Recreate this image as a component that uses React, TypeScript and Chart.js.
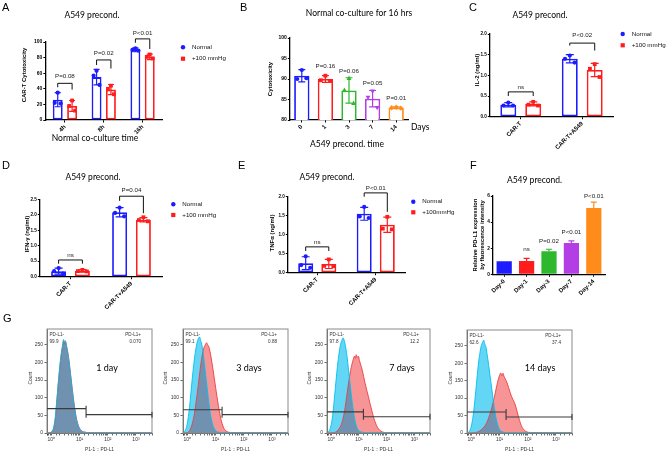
import React, { useEffect, useRef } from 'react';
import { Chart, registerables } from 'chart.js';

Chart.register(...registerables);

/* ======================= DATA ======================= */
// Panel A – CAR-T cytotoxicity vs co-culture time
const A_CATEGORIES = ['4h', '8h', '16h'];
const A_SERIES = ['Normal', '+100 mmHg'];
const A_NORMAL_MEAN = [26, 55, 90];
const A_NORMAL_SD = [9, 10, 2.5];
const A_NORMAL_POINTS = [[35, 22, 21], [63, 57, 45], [92, 90, 89]];
const A_HIGH_MEAN = [18, 39, 81];
const A_HIGH_SD = [7, 6.5, 3.5];
const A_HIGH_POINTS = [[25, 18, 12], [44, 40, 33], [84, 81, 79]];
const A_BRACKETS = [
  { label: 'P=0.08', labelY: 56, top: 47, leftEnd: 42, rightEnd: 39 },
  { label: 'P=0.02', labelY: 86, top: 77, leftEnd: 70.5, rightEnd: 66 },
  { label: 'P<0.01', labelY: 111, top: 104, leftEnd: 99, rightEnd: 91 },
];

// Panel B – cytotoxicity after preconditioning days
const B_CATEGORIES = ['0', '1', '3', '7', '14'];
const B_MEAN = [90.8, 90.0, 87.2, 85.2, 83.0];
const B_SD = [1.5, 0.8, 3.1, 2.0, 0.2];
const B_POINTS = [[92.2, 90.0, 90.2], [90.8, 89.7, 89.5], [90.2, 87.3, 84.1], [87.0, 85.5, 83.0], [83.1, 83.0, 82.9]];
const B_P_LABELS = ['', 'P=0.16', 'P=0.06', 'P=0.05', 'P=0.01'];
const B_P_LABEL_Y = [0, 93.2, 92.0, 89.0, 85.4];

// Panel C – IL-2
const C_CATEGORIES = ['CAR-T', 'CAR-T+A549'];
const C_NORMAL_MEAN = [0.29, 1.40];
const C_NORMAL_SD = [0.05, 0.1];
const C_NORMAL_POINTS = [[0.34, 0.27, 0.27], [1.48, 1.40, 1.31]];
const C_HIGH_MEAN = [0.31, 1.13];
const C_HIGH_SD = [0.05, 0.16];
const C_HIGH_POINTS = [[0.36, 0.29, 0.27], [1.27, 1.16, 0.96]];
const C_BRACKETS = [
  { label: 'ns', labelY: 0.72, top: 0.6, leftEnd: 0.5, rightEnd: 0.5 },
  { label: 'P<0.02', labelY: 1.96, top: 1.78, leftEnd: 1.72, rightEnd: 1.6 },
];

// Panel D – IFN-γ
const D_CATEGORIES = ['CAR-T', 'CAR-T+A549'];
const D_NORMAL_MEAN = [0.18, 2.08];
const D_NORMAL_SD = [0.1, 0.15];
const D_NORMAL_POINTS = [[0.28, 0.18, 0.1], [2.23, 2.06, 1.95]];
const D_HIGH_MEAN = [0.19, 1.84];
const D_HIGH_SD = [0.04, 0.07];
const D_HIGH_POINTS = [[0.22, 0.18, 0.17], [1.92, 1.83, 1.79]];
const D_BRACKETS = [
  { label: 'ns', labelY: 0.7, top: 0.54, leftEnd: 0.42, rightEnd: 0.42 },
  { label: 'P=0.04', labelY: 2.8, top: 2.6, leftEnd: 2.45, rightEnd: 2.05 },
];

// Panel E – TNFα
const E_CATEGORIES = ['CAR-T', 'CAR-T+A549'];
const E_NORMAL_MEAN = [0.25, 1.55];
const E_NORMAL_SD = [0.17, 0.17];
const E_NORMAL_POINTS = [[0.43, 0.2, 0.13], [1.73, 1.48, 1.44]];
const E_HIGH_MEAN = [0.23, 1.26];
const E_HIGH_SD = [0.12, 0.2];
const E_HIGH_POINTS = [[0.35, 0.18, 0.17], [1.47, 1.16, 1.14]];
const E_BRACKETS = [
  { label: 'ns', labelY: 0.8, top: 0.68, leftEnd: 0.57, rightEnd: 0.57 },
  { label: 'P<0.01', labelY: 2.22, top: 2.1, leftEnd: 2.0, rightEnd: 1.6 },
];

// Panel F – relative PD-L1 expression
const F_CATEGORIES = ['Day-0', 'Day-1', 'Day-3', 'Day-7', 'Day-14'];
const F_MEAN = [1.0, 1.02, 1.76, 2.4, 5.08];
const F_SD = [0, 0.2, 0.16, 0.16, 0.45];
const F_P_LABELS = ['', 'ns', 'P=0.02', 'P<0.01', 'P<0.01'];
const F_P_LABEL_Y = [0, 1.95, 2.5, 3.2, 6.0];

// Panel G – flow cytometry histograms ([log10 PD-L1, count])
const G_DAYS = ['1 day', '3 days', '7 days', '14 days'];
const G_NEG_PCT = ['99.9', '99.1', '97.8', '62.6'];
const G_POS_PCT = ['0.070', '0.88', '12.2', '37.4'];
const G_GATE_SPLIT = [17, 17, 14.5, 17];
const G_GATE_NEG_Y = [69, 66, 60, 60];
const G_GATE_POS_Y = [52, 52, 46, 46];
const G_X_MIN = 0.71;
const G_X_MAX = 3700;
const G_Y_MAX = 295;
const G_CONTROL = [
  [[-0.15, 0], [-0.05, 1], [0.02, 4], [0.08, 15], [0.14, 45], [0.2, 100], [0.25, 148], [0.3, 190], [0.35, 225], [0.4, 250], [0.43, 265], [0.46, 255], [0.49, 262], [0.53, 248], [0.57, 232], [0.62, 205], [0.67, 170], [0.72, 135], [0.77, 100], [0.82, 70], [0.87, 45], [0.92, 27], [0.98, 14], [1.05, 6], [1.15, 2], [1.4, 1], [3.57, 0.5]],
  [[-0.15, 0], [-0.1, 4], [-0.05, 12], [0, 28], [0.05, 55], [0.1, 92], [0.15, 135], [0.2, 175], [0.25, 210], [0.3, 238], [0.35, 258], [0.4, 270], [0.44, 272], [0.47, 262], [0.5, 256], [0.55, 232], [0.6, 200], [0.65, 163], [0.7, 128], [0.75, 93], [0.8, 62], [0.86, 36], [0.92, 18], [0.99, 8], [1.08, 3], [1.3, 1], [3.57, 0.5]],
  [[-0.15, 0], [-0.1, 3], [-0.05, 10], [0, 25], [0.05, 50], [0.1, 88], [0.15, 130], [0.2, 172], [0.25, 208], [0.3, 236], [0.35, 256], [0.4, 266], [0.43, 270], [0.46, 264], [0.5, 252], [0.55, 228], [0.6, 196], [0.65, 160], [0.7, 125], [0.75, 90], [0.8, 60], [0.86, 34], [0.92, 17], [0.99, 7], [1.08, 3], [1.3, 1], [3.57, 0.5]],
  [[-0.15, 0], [-0.1, 2], [-0.05, 8], [0, 20], [0.05, 42], [0.1, 75], [0.15, 115], [0.2, 158], [0.25, 198], [0.3, 228], [0.35, 250], [0.4, 260], [0.44, 266], [0.47, 256], [0.51, 248], [0.56, 225], [0.61, 196], [0.66, 165], [0.71, 135], [0.76, 104], [0.81, 74], [0.87, 45], [0.93, 24], [1.0, 10], [1.08, 4], [1.3, 1], [3.57, 0.5]],
];
const G_SAMPLE = [
  [[-0.15, 0], [-0.05, 1], [0.02, 3], [0.08, 13], [0.14, 42], [0.2, 95], [0.25, 142], [0.3, 186], [0.35, 222], [0.4, 248], [0.44, 262], [0.47, 252], [0.5, 260], [0.54, 246], [0.58, 230], [0.63, 203], [0.68, 168], [0.73, 133], [0.78, 99], [0.83, 70], [0.88, 45], [0.93, 28], [0.99, 15], [1.06, 7], [1.15, 3], [1.4, 1], [3.57, 0.5]],
  [[-0.15, 0], [0, 1], [0.05, 4], [0.1, 10], [0.15, 20], [0.2, 35], [0.25, 55], [0.3, 82], [0.35, 112], [0.4, 145], [0.45, 178], [0.5, 208], [0.55, 230], [0.6, 245], [0.65, 252], [0.68, 256], [0.72, 250], [0.76, 245], [0.8, 232], [0.85, 210], [0.9, 185], [0.95, 158], [1.0, 130], [1.05, 103], [1.1, 78], [1.15, 55], [1.2, 36], [1.26, 20], [1.32, 10], [1.4, 4], [1.55, 1.5], [3.57, 0.5]],
  [[-0.15, 0], [0.1, 1], [0.2, 5], [0.3, 14], [0.38, 28], [0.45, 50], [0.5, 72], [0.55, 100], [0.6, 128], [0.65, 155], [0.7, 178], [0.75, 196], [0.8, 210], [0.84, 218], [0.87, 212], [0.9, 222], [0.94, 214], [0.98, 218], [1.02, 205], [1.07, 192], [1.12, 178], [1.17, 160], [1.22, 142], [1.28, 122], [1.34, 104], [1.4, 84], [1.47, 62], [1.54, 42], [1.6, 28], [1.67, 16], [1.75, 8], [1.85, 3], [2.0, 1], [3.57, 0.5]],
  [[-0.15, 0], [0.15, 1], [0.25, 4], [0.35, 9], [0.45, 17], [0.55, 30], [0.62, 45], [0.7, 65], [0.77, 88], [0.84, 112], [0.9, 135], [0.95, 152], [1.0, 165], [1.04, 172], [1.08, 163], [1.12, 171], [1.16, 162], [1.2, 155], [1.26, 145], [1.32, 130], [1.38, 115], [1.44, 102], [1.5, 92], [1.56, 80], [1.62, 62], [1.68, 44], [1.74, 28], [1.8, 16], [1.88, 8], [1.97, 3], [2.1, 1.5], [3.57, 0.5]],
];

/* ======================= STYLE ======================= */
const BLUE = '#1c1cff';
const RED = '#ff1c1c';
const GREEN = '#2eb82e';
const PURPLE = '#b33ee6';
const ORANGE = '#ff8c1a';
const SANS = '"Liberation Sans", Arial, sans-serif';
const LATO = 'Lato, "Open Sans", sans-serif';
const JITTER = [0, -0.3, 0.3];
const HIST_RED_FILL = 'rgb(246,148,150)';
const HIST_RED_LINE = 'rgb(236,62,62)';
const HIST_CYAN_FILL = 'rgb(100,214,245)';
const HIST_CYAN_LINE = 'rgb(0,192,238)';
const HIST_OVERLAP_FILL = 'rgb(112,146,176)';

/* ======================= HELPERS ======================= */
function drawShape(ctx: any, shape: string, x: number, y: number, r: number, color: string) {
  ctx.save();
  ctx.fillStyle = color;
  ctx.beginPath();
  if (shape === 'square') ctx.rect(x - r, y - r, 2 * r, 2 * r);
  else if (shape === 'triangle') { ctx.moveTo(x, y - r * 1.25); ctx.lineTo(x + r * 1.15, y + r * 0.85); ctx.lineTo(x - r * 1.15, y + r * 0.85); ctx.closePath(); }
  else if (shape === 'triangleDown') { ctx.moveTo(x, y + r * 1.25); ctx.lineTo(x + r * 1.15, y - r * 0.85); ctx.lineTo(x - r * 1.15, y - r * 0.85); ctx.closePath(); }
  else if (shape === 'diamond') { ctx.moveTo(x, y - r * 1.3); ctx.lineTo(x + r * 1.1, y); ctx.lineTo(x, y + r * 1.3); ctx.lineTo(x - r * 1.1, y); ctx.closePath(); }
  else ctx.arc(x, y, r, 0, Math.PI * 2);
  ctx.fill();
  ctx.restore();
}

function drawTexts(ctx: any, items: any[], ox: number, oy: number) {
  for (const it of items) {
    ctx.save();
    ctx.translate(it.x - ox, it.y - oy);
    if (it.rot) ctx.rotate((it.rot * Math.PI) / 180);
    ctx.font = `${it.weight || 'normal'} ${it.size}px ${it.family || SANS}`;
    ctx.fillStyle = it.color || '#000';
    ctx.textAlign = it.align || 'center';
    ctx.textBaseline = it.baseline || 'middle';
    ctx.fillText(it.t, 0, 0);
    ctx.restore();
  }
}

function barPlugin(spec: any) {
  const { box } = spec;
  return {
    id: 'barDecor',
    afterDatasetsDraw(chart: any) {
      const ctx = chart.ctx;
      const ys = chart.scales.y;
      spec.series.forEach((s: any, k: number) => {
        const meta = chart.getDatasetMeta(k);
        meta.data.forEach((bar: any, j: number) => {
          const color = s.colors[j] || s.colors[0];
          const shape = (s.shapes && (s.shapes[j] || s.shapes[0])) || 'circle';
          const m = s.means[j];
          const sd = s.sds[j];
          if (sd > 0) {
            const top = ys.getPixelForValue(m + sd);
            const bot = ys.getPixelForValue(s.upperOnly ? m : m - sd);
            const c = spec.capW / 2;
            ctx.save();
            ctx.strokeStyle = color;
            ctx.lineWidth = 1.2;
            ctx.beginPath();
            ctx.moveTo(bar.x, top); ctx.lineTo(bar.x, bot);
            ctx.moveTo(bar.x - c, top); ctx.lineTo(bar.x + c, top);
            if (!s.upperOnly) { ctx.moveTo(bar.x - c, bot); ctx.lineTo(bar.x + c, bot); }
            ctx.stroke();
            ctx.restore();
          }
          if (s.points) {
            s.points[j].forEach((v: number, n: number) => {
              const r = shape === 'square' ? 1.9 : 2.1;
              drawShape(ctx, shape, bar.x + JITTER[n] * bar.width, ys.getPixelForValue(v), r, color);
            });
          }
        });
      });
    },
    afterDraw(chart: any) {
      const ctx = chart.ctx;
      const ys = chart.scales.y;
      if (spec.brackets) {
        const m0 = chart.getDatasetMeta(0);
        const m1 = chart.getDatasetMeta(1);
        spec.brackets.forEach((b: any, j: number) => {
          const x1 = m0.data[j].x;
          const x2 = m1.data[j].x;
          const yt = ys.getPixelForValue(b.top);
          ctx.save();
          ctx.strokeStyle = '#111';
          ctx.lineWidth = 1;
          ctx.beginPath();
          ctx.moveTo(x1, ys.getPixelForValue(b.leftEnd));
          ctx.lineTo(x1, yt);
          ctx.lineTo(x2, yt);
          ctx.lineTo(x2, ys.getPixelForValue(b.rightEnd));
          ctx.stroke();
          ctx.restore();
          drawTexts(ctx, [{ t: b.label, x: (x1 + x2) / 2, y: ys.getPixelForValue(b.labelY), size: 6.2, color: '#222' }], 0, 0);
        });
      }
      if (spec.barLabels) {
        const meta = chart.getDatasetMeta(0);
        spec.barLabels.labels.forEach((lab: string, j: number) => {
          if (!lab) return;
          drawTexts(ctx, [{ t: lab, x: meta.data[j].x, y: ys.getPixelForValue(spec.barLabels.ys[j]), size: 6.2, color: '#222' }], 0, 0);
        });
      }
      if (spec.legend) {
        const L = spec.legend;
        L.labels.forEach((lab: string, n: number) => {
          drawShape(ctx, L.shapes[n], L.x - box.left, L.ys[n] - box.top, L.shapes[n] === 'square' ? 2.1 : 2.2, L.colors[n]);
          drawTexts(ctx, [{ t: lab, x: L.x + 9, y: L.ys[n], size: 6.2, align: 'left', color: '#111' }], box.left, box.top);
        });
      }
      drawTexts(ctx, spec.texts, box.left, box.top);
    },
  };
}

function barConfig(spec: any) {
  const { box, area } = spec;
  const datasets = spec.series.map((s: any) => ({
    label: s.label,
    data: s.means,
    backgroundColor: s.filled ? s.colors : '#ffffff',
    borderColor: s.colors,
    borderWidth: s.filled ? 0 : 1.8,
    borderSkipped: false,
    barPercentage: spec.barPct,
    categoryPercentage: spec.catPct,
  }));
  return {
    type: 'bar',
    data: { labels: spec.categories, datasets },
    options: {
      animation: false,
      responsive: false,
      maintainAspectRatio: false,
      layout: { padding: { left: 0, top: area.top - box.top, right: box.left + box.width - area.right, bottom: 0 } },
      plugins: { legend: { display: false }, tooltip: { enabled: false }, title: { display: false } },
      scales: {
        x: {
          type: 'category',
          offset: true,
          grid: { display: true, drawOnChartArea: false, drawTicks: true, tickLength: 2.5, offset: false, color: '#000', lineWidth: 1 },
          border: { display: true, color: '#000', width: 1.3 },
          ticks: { autoSkip: false, minRotation: spec.rot, maxRotation: spec.rot, padding: 1, color: '#000', font: { family: SANS, size: 6, weight: 'bold' } },
          afterFit: (s: any) => { s.height = box.top + box.height - area.bottom; },
        },
        y: {
          min: spec.yMin,
          max: spec.yMax,
          grid: { display: true, drawOnChartArea: false, drawTicks: true, tickLength: 2.2, color: '#000', lineWidth: 1 },
          border: { display: true, color: '#000', width: 1.3 },
          ticks: { stepSize: spec.yStep, padding: 1, color: '#000', font: { family: SANS, size: spec.yTickSize, weight: 'bold' }, callback: (v: any) => Number(v).toFixed(spec.yDec) },
          afterFit: (s: any) => { s.width = area.left - box.left; },
        },
      },
    },
    plugins: [barPlugin(spec)],
  };
}

/* ======================= PANEL SPECS ======================= */
const PANEL_A = {
  box: { left: 0, top: 0, width: 240, height: 150 },
  area: { left: 45.5, top: 42, right: 162, bottom: 120 },
  categories: A_CATEGORIES,
  series: [
    { label: A_SERIES[0], means: A_NORMAL_MEAN, sds: A_NORMAL_SD, points: A_NORMAL_POINTS, colors: [BLUE], shapes: ['circle'] },
    { label: A_SERIES[1], means: A_HIGH_MEAN, sds: A_HIGH_SD, points: A_HIGH_POINTS, colors: [RED], shapes: ['square'] },
  ],
  yMin: 0, yMax: 100, yStep: 20, yDec: 0, yTickSize: 5, rot: 45, barPct: 0.69, catPct: 0.74, capW: 6,
  brackets: A_BRACKETS,
  legend: { x: 183, ys: [47.3, 58.7], labels: A_SERIES, colors: [BLUE, RED], shapes: ['circle', 'square'] },
  texts: [
    { t: 'A', x: 2, y: 11, size: 11, align: 'left', baseline: 'alphabetic' },
    { t: 'A549 precond.', x: 92, y: 15, size: 8.5, family: LATO },
    { t: 'CAR-T Cytotoxicity', x: 24, y: 75, size: 6, weight: 'bold', rot: -90 },
    { t: 'Normal co-culture time', x: 95, y: 138.5, size: 8.5, family: LATO },
  ],
};

const PANEL_B = {
  box: { left: 222, top: 0, width: 218, height: 150 },
  area: { left: 290, top: 38, right: 408, bottom: 120 },
  categories: B_CATEGORIES,
  series: [
    { label: 'Cytotoxicity', means: B_MEAN, sds: B_SD, points: B_POINTS, colors: [BLUE, RED, GREEN, PURPLE, ORANGE], shapes: ['circle', 'square', 'triangle', 'triangleDown', 'diamond'] },
  ],
  yMin: 80, yMax: 100, yStep: 5, yDec: 0, yTickSize: 5, rot: 45, barPct: 0.65, catPct: 1, capW: 7,
  barLabels: { labels: B_P_LABELS, ys: B_P_LABEL_Y },
  texts: [
    { t: 'B', x: 240, y: 10.5, size: 11, align: 'left', baseline: 'alphabetic' },
    { t: 'Normal co-culture for 16 hrs', x: 359, y: 13.5, size: 8.5, family: LATO },
    { t: 'Cytotoxicity', x: 270, y: 79, size: 6, weight: 'bold', rot: -90 },
    { t: 'A549 precond. time', x: 347, y: 144, size: 8.5, family: LATO },
    { t: 'Days', x: 411, y: 127, size: 8.5, family: LATO, align: 'left' },
  ],
};

const PANEL_C = {
  box: { left: 440, top: 0, width: 229, height: 150 },
  area: { left: 490, top: 34, right: 613, bottom: 116.7 },
  categories: C_CATEGORIES,
  series: [
    { label: A_SERIES[0], means: C_NORMAL_MEAN, sds: C_NORMAL_SD, points: C_NORMAL_POINTS, colors: [BLUE], shapes: ['circle'] },
    { label: A_SERIES[1], means: C_HIGH_MEAN, sds: C_HIGH_SD, points: C_HIGH_POINTS, colors: [RED], shapes: ['square'] },
  ],
  yMin: 0, yMax: 2, yStep: 0.5, yDec: 1, yTickSize: 4.6, rot: 45, barPct: 0.64, catPct: 0.81, capW: 8,
  brackets: C_BRACKETS,
  legend: { x: 622.7, ys: [34, 45.3], labels: A_SERIES, colors: [BLUE, RED], shapes: ['circle', 'square'] },
  texts: [
    { t: 'C', x: 469, y: 10.5, size: 11, align: 'left', baseline: 'alphabetic' },
    { t: 'A549 precond.', x: 540, y: 15, size: 8.5, family: LATO },
    { t: 'IL-2 (ng/ml)', x: 477.5, y: 70, size: 6, weight: 'bold', rot: -90 },
  ],
};

const PANEL_D = {
  box: { left: 0, top: 150, width: 222, height: 160 },
  area: { left: 40, top: 199.3, right: 162, bottom: 276.7 },
  categories: D_CATEGORIES,
  series: [
    { label: A_SERIES[0], means: D_NORMAL_MEAN, sds: D_NORMAL_SD, points: D_NORMAL_POINTS, colors: [BLUE], shapes: ['circle'] },
    { label: A_SERIES[1], means: D_HIGH_MEAN, sds: D_HIGH_SD, points: D_HIGH_POINTS, colors: [RED], shapes: ['square'] },
  ],
  yMin: 0, yMax: 2.5, yStep: 0.5, yDec: 1, yTickSize: 4.6, rot: 45, barPct: 0.63, catPct: 0.78, capW: 8,
  brackets: D_BRACKETS,
  legend: { x: 173.3, ys: [204.3, 215], labels: A_SERIES, colors: [BLUE, RED], shapes: ['circle', 'square'] },
  texts: [
    { t: 'D', x: 2, y: 169, size: 11, align: 'left', baseline: 'alphabetic' },
    { t: 'A549 precond.', x: 93, y: 177, size: 8.5, family: LATO },
    { t: 'IFN-γ (ng/ml)', x: 27.5, y: 234, size: 6, weight: 'bold', rot: -90 },
  ],
};

const PANEL_E = {
  box: { left: 222, top: 150, width: 250, height: 160 },
  area: { left: 288, top: 196.7, right: 405, bottom: 272.7 },
  categories: E_CATEGORIES,
  series: [
    { label: A_SERIES[0], means: E_NORMAL_MEAN, sds: E_NORMAL_SD, points: E_NORMAL_POINTS, colors: [BLUE], shapes: ['circle'] },
    { label: '+100mmHg', means: E_HIGH_MEAN, sds: E_HIGH_SD, points: E_HIGH_POINTS, colors: [RED], shapes: ['square'] },
  ],
  yMin: 0, yMax: 2, yStep: 0.5, yDec: 1, yTickSize: 4.6, rot: 45, barPct: 0.65, catPct: 0.79, capW: 8,
  brackets: E_BRACKETS,
  legend: { x: 413.3, ys: [201.7, 212.3], labels: ['Normal', '+100mmHg'], colors: [BLUE, RED], shapes: ['circle', 'square'] },
  texts: [
    { t: 'E', x: 238, y: 169, size: 11, align: 'left', baseline: 'alphabetic' },
    { t: 'A549 precond.', x: 327, y: 177, size: 8.5, family: LATO },
    { t: 'TNFα (ng/ml)', x: 272, y: 233, size: 6, weight: 'bold', rot: -90 },
  ],
};

const PANEL_F = {
  box: { left: 440, top: 150, width: 229, height: 160 },
  area: { left: 493, top: 196, right: 605, bottom: 274.3 },
  categories: F_CATEGORIES,
  series: [
    { label: 'PD-L1', means: F_MEAN, sds: F_SD, colors: [BLUE, RED, GREEN, PURPLE, ORANGE], filled: true, upperOnly: true },
  ],
  yMin: 0, yMax: 6, yStep: 2, yDec: 0, yTickSize: 4.8, rot: 45, barPct: 0.68, catPct: 1, capW: 6,
  barLabels: { labels: F_P_LABELS, ys: F_P_LABEL_Y },
  texts: [
    { t: 'F', x: 470, y: 169, size: 11, align: 'left', baseline: 'alphabetic' },
    { t: 'A549 precond.', x: 534.5, y: 180.7, size: 8.5, family: LATO },
    { t: 'Relative PD-L1 expression', x: 475.5, y: 235, size: 5.8, weight: 'bold', rot: -90 },
    { t: 'by fluorescence intensity', x: 482, y: 235, size: 5.8, weight: 'bold', rot: -90 },
  ],
};

const BAR_PANELS = [PANEL_A, PANEL_B, PANEL_C, PANEL_D, PANEL_E, PANEL_F];

const G_LAYOUT = [
  { box: { left: 0, top: 300, width: 160, height: 157 }, area: { left: 47, top: 329, right: 152, bottom: 433 }, countX: 31, dayX: 107 },
  { box: { left: 160, top: 300, width: 140, height: 157 }, area: { left: 183, top: 329, right: 288, bottom: 433 }, countX: 166, dayX: 249 },
  { box: { left: 300, top: 300, width: 140, height: 157 }, area: { left: 327, top: 329, right: 430, bottom: 433 }, countX: 310, dayX: 402 },
  { box: { left: 440, top: 300, width: 140, height: 157 }, area: { left: 467, top: 330, right: 572, bottom: 433 }, countX: 451, dayX: 540 },
];

const SUP = ['⁰', '¹', '²', '³'];

function areaPath(ctx: any, chart: any, k: number) {
  const meta = chart.getDatasetMeta(k);
  const line = meta.dataset;
  const pts = meta.data;
  const base = chart.scales.y.getPixelForValue(0);
  if (line.updateControlPoints) line.updateControlPoints(chart.chartArea, 'x');
  ctx.beginPath();
  line.path(ctx);
  ctx.lineTo(pts[pts.length - 1].x, base);
  ctx.lineTo(pts[0].x, base);
  ctx.closePath();
}

function linePath(ctx: any, chart: any, k: number) {
  const line = chart.getDatasetMeta(k).dataset;
  ctx.beginPath();
  line.path(ctx);
}

function histPlugin(i: number) {
  const L = G_LAYOUT[i];
  const { box } = L;
  return {
    id: 'histDecor',
    afterDatasetsDraw(chart: any) {
      const ctx = chart.ctx;
      const a = chart.chartArea;
      ctx.save();
      ctx.beginPath();
      ctx.rect(a.left, a.top - 2, a.right - a.left, a.bottom - a.top + 2);
      ctx.clip();
      // dataset 0 = stained sample (red), dataset 1 = control (cyan)
      areaPath(ctx, chart, 0);
      ctx.fillStyle = HIST_RED_FILL;
      ctx.fill();
      areaPath(ctx, chart, 1);
      ctx.fillStyle = HIST_CYAN_FILL;
      ctx.fill();
      ctx.save();
      areaPath(ctx, chart, 0);
      ctx.clip();
      areaPath(ctx, chart, 1);
      ctx.fillStyle = HIST_OVERLAP_FILL;
      ctx.fill();
      ctx.restore();
      ctx.lineWidth = 0.9;
      linePath(ctx, chart, 0);
      ctx.strokeStyle = HIST_RED_LINE;
      ctx.stroke();
      linePath(ctx, chart, 1);
      ctx.strokeStyle = HIST_CYAN_LINE;
      ctx.stroke();
      ctx.restore();
    },
    afterDraw(chart: any) {
      const ctx = chart.ctx;
      const a = chart.chartArea;
      const xs = chart.scales.x;
      const ys = chart.scales.y;
      ctx.save();
      ctx.strokeStyle = '#8a8a8a';
      ctx.lineWidth = 1;
      ctx.strokeRect(a.left, a.top, a.right - a.left, a.bottom - a.top);
      const xm = xs.getPixelForValue(G_GATE_SPLIT[i]);
      const yn = ys.getPixelForValue(G_GATE_NEG_Y[i]);
      const yp = ys.getPixelForValue(G_GATE_POS_Y[i]);
      ctx.strokeStyle = '#3a3a3a';
      ctx.lineWidth = 1.1;
      ctx.beginPath();
      ctx.moveTo(a.left, yn); ctx.lineTo(xm, yn);
      ctx.moveTo(xm, yn - 3); ctx.lineTo(xm, yn + 3);
      ctx.moveTo(xm, yp); ctx.lineTo(a.right, yp);
      ctx.moveTo(xm, yp - 3); ctx.lineTo(xm, yp + 3);
      ctx.moveTo(a.right, yp - 3); ctx.lineTo(a.right, yp + 3);
      ctx.stroke();
      ctx.restore();
      const pl = box.left + a.left;
      const pr = box.left + a.right;
      const pt = box.top + a.top;
      const items: any[] = [
        { t: 'PD-L1-', x: pl + 2.5, y: pt + 6, size: 4.6, align: 'left', color: '#333' },
        { t: G_NEG_PCT[i], x: pl + 2.5, y: pt + 12.5, size: 4.6, align: 'left', color: '#333' },
        { t: 'PD-L1+', x: pr - 11, y: pt + 6, size: 4.6, align: 'right', color: '#333' },
        { t: G_POS_PCT[i], x: pr - 11, y: pt + 12.5, size: 4.6, align: 'right', color: '#333' },
        { t: G_DAYS[i], x: L.dayX, y: 368, size: 9, family: LATO },
        { t: 'Count', x: L.countX, y: 378, size: 4.8, rot: -90, color: '#333' },
        { t: 'P1-1 :: PD-L1', x: (pl + pr) / 2, y: 450, size: 4.8, color: '#333' },
      ];
      if (i === 0) items.push({ t: 'G', x: 3, y: 322, size: 11, align: 'left', baseline: 'alphabetic' });
      drawTexts(ctx, items, box.left, box.top);
    },
  };
}

function histConfig(i: number) {
  const { box, area } = G_LAYOUT[i];
  const toXY = (arr: number[][]) => arr.map(([lx, c]) => ({ x: Math.pow(10, lx), y: c }));
  return {
    type: 'line',
    data: {
      datasets: [
        { label: 'PD-L1 (stained)', data: toXY(G_SAMPLE[i]), borderColor: HIST_RED_LINE, backgroundColor: HIST_RED_FILL, fill: false, borderWidth: 0, pointRadius: 0, cubicInterpolationMode: 'monotone' },
        { label: 'Control', data: toXY(G_CONTROL[i]), borderColor: HIST_CYAN_LINE, backgroundColor: HIST_CYAN_FILL, fill: false, borderWidth: 0, pointRadius: 0, cubicInterpolationMode: 'monotone' },
      ],
    },
    options: {
      animation: false,
      responsive: false,
      maintainAspectRatio: false,
      layout: { padding: { left: 0, top: area.top - box.top, right: box.left + box.width - area.right, bottom: 0 } },
      plugins: { legend: { display: false }, tooltip: { enabled: false }, title: { display: false } },
      scales: {
        x: {
          type: 'logarithmic',
          min: G_X_MIN,
          max: G_X_MAX,
          grid: { display: true, drawOnChartArea: false, drawTicks: true, tickLength: 2.5, color: '#444', lineWidth: 0.8 },
          border: { display: true, color: '#666', width: 1 },
          ticks: {
            autoSkip: false, minRotation: 0, maxRotation: 0, padding: 1.5, color: '#333', font: { family: SANS, size: 5 },
            callback: (v: any) => {
              const l = Math.log10(Number(v));
              const r = Math.round(l);
              return Math.abs(l - r) < 1e-6 && r >= 0 && r <= 3 ? '10' + SUP[r] : '';
            },
          },
          afterFit: (s: any) => { s.height = box.top + box.height - area.bottom; },
        },
        y: {
          min: 0,
          max: G_Y_MAX,
          grid: { display: true, drawOnChartArea: false, drawTicks: true, tickLength: 2.5, color: '#444', lineWidth: 0.8 },
          border: { display: true, color: '#666', width: 1 },
          ticks: { stepSize: 50, includeBounds: false, padding: 1.5, color: '#333', font: { family: SANS, size: 5 } },
          afterFit: (s: any) => { s.width = area.left - box.left; },
        },
      },
    },
    plugins: [histPlugin(i)],
  };
}

/* ======================= COMPONENTS ======================= */
function ChartCanvas({ box, make }: { box: any; make: () => any }) {
  const ref = useRef<HTMLCanvasElement>(null);
  useEffect(() => {
    const chart = new Chart(ref.current as HTMLCanvasElement, make());
    return () => chart.destroy();
  }, []);
  return (
    <canvas
      ref={ref}
      width={box.width}
      height={box.height}
      style={{ position: 'absolute', left: box.left, top: box.top, width: box.width, height: box.height }}
    />
  );
}

export default function App() {
  return (
    <div style={{ position: 'absolute', left: 0, top: 0, width: 669, height: 457, background: '#fff', overflow: 'hidden' }}>
      {BAR_PANELS.map((p, i) => (
        <ChartCanvas key={'bar' + i} box={p.box} make={() => barConfig(p)} />
      ))}
      {G_LAYOUT.map((g, i) => (
        <ChartCanvas key={'hist' + i} box={g.box} make={() => histConfig(i)} />
      ))}
    </div>
  );
}
